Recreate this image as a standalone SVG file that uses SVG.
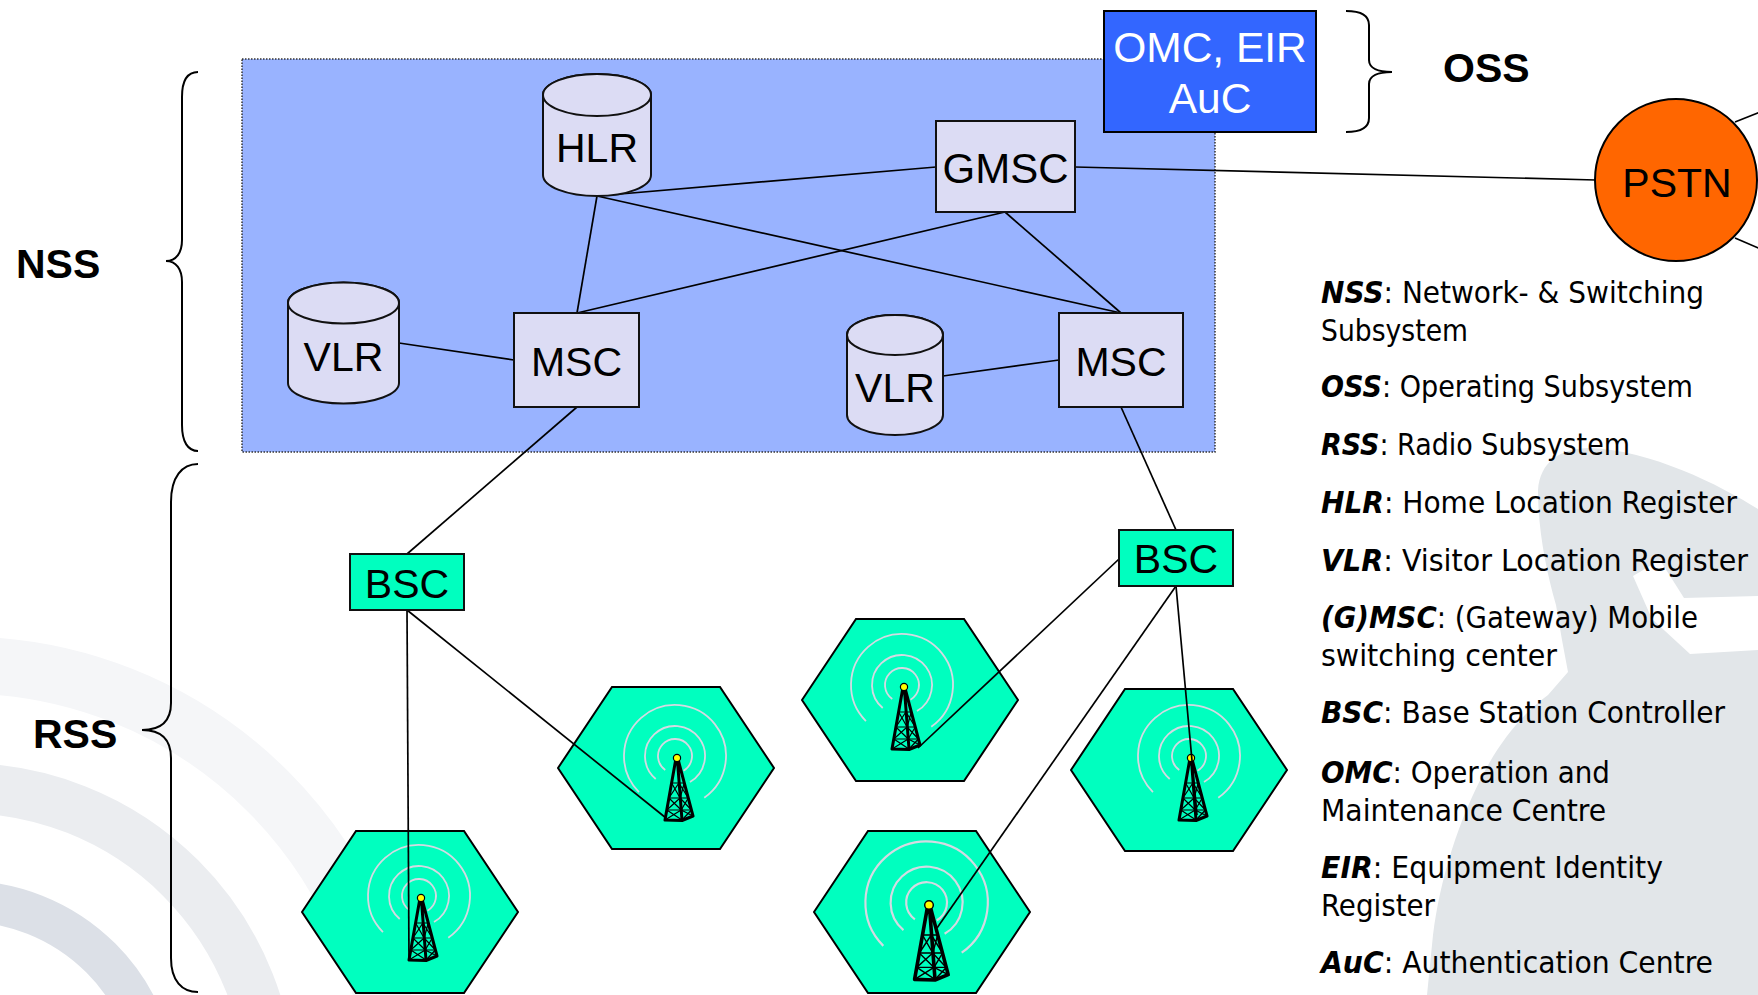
<svg xmlns="http://www.w3.org/2000/svg" xmlns:xlink="http://www.w3.org/1999/xlink" width="1758" height="995" viewBox="0 0 1758 995">
<style>
  .node { fill: #DCDCF4; stroke: #111; stroke-width: 2; }
  .lbl { font-family: "Liberation Sans", Arial, sans-serif; font-size: 41px; fill: #000; text-anchor: middle; }
  .big { font-family: "Liberation Sans", Arial, sans-serif; font-size: 41px; font-weight: bold; fill: #000; }
  .conn line { stroke: #000; stroke-width: 1.7; }
  .brace { fill: none; stroke: #000; stroke-width: 2; }
  .leg { font-family: "DejaVu Sans Condensed", "DejaVu Sans", sans-serif; font-stretch: condensed; font-size: 30px; fill: #000; }
  .leg .k { font-weight: bold; font-style: italic; }
  .cellhex { fill: #00FFBF; stroke: #000; stroke-width: 2; }
  .bsc { fill: #00FFBF; stroke: #111; stroke-width: 2; }
</style>
<defs>
  <polygon id="hex" points="-108,0 -54,-81 54,-81 108,0 54,81 -54,81"/>
  <g id="tower">
    <g fill="none" stroke="#D4DAE2" stroke-width="1.8" transform="translate(-2,-2)">
      <path d="M -9.75 13.93 A 17 17 0 1 1 8.5 14.72"/>
      <path d="M -19.28 22.98 A 30 30 0 1 1 15 25.98"/>
      <path d="M -36.06 36.06 A 51 51 0 1 1 29.25 41.78"/>
    </g>
    <g stroke="#000" stroke-width="3" fill="none" stroke-linejoin="round" stroke-linecap="round">
      <path d="M -1.5 3 L -12 62 M 0.5 3 L 5 62 M 1.5 3 L 16 58 M -12 62 L 5 62.5 L 16 58"/>
    </g>
    <g stroke="#000" stroke-width="1.2" fill="none">
      <path d="M -5.4 25 L 3.1 40 M 1.9 25 L -8.1 40 M -8.1 40 L 4.2 52 M 3.1 40 L -10.2 52 M -10.2 52 L 5 62 M 4.2 52 L -12 62"/>
      <path d="M 1.9 25 L 11.3 40 M 7.3 25 L 3.1 40 M 3.1 40 L 14.4 52 M 11.3 40 L 4.2 52 M 4.2 52 L 16 58 M 14.4 52 L 5 62"/>
      <path d="M -5.4 25 L 7.3 25 M -8.1 40 L 11.3 40 M -10.2 52 L 14.4 52"/>
    </g>
    <circle cx="0" cy="0" r="3.6" fill="#FFFF00" stroke="#000" stroke-width="1.2"/>
  </g>
</defs>

<g id="background">
  <rect x="0" y="0" width="1758" height="995" fill="#FFFFFF"/>
  <circle cx="-37" cy="1096" r="431" fill="none" stroke="#F5F6F8" stroke-width="57"/>
  <circle cx="-37" cy="1096" r="308" fill="none" stroke="#EBEDF0" stroke-width="50"/>
  <circle cx="-37" cy="1096" r="195" fill="none" stroke="#DCE0E7" stroke-width="41"/>
  <path d="M 1427 995 L 1433 935 C 1440 880 1458 820 1487 767 C 1505 735 1525 712 1548 695 L 1568 672 L 1562 640 L 1556 605 C 1546 570 1538 530 1538 490 C 1540 462 1560 448 1590 448 C 1650 450 1720 485 1758 509 L 1758 995 Z" fill="#E2E6E9"/>
  <polygon points="1633,576 1660,560 1684,598 1758,596 1758,650 1690,654 1652,619" fill="#FFFFFF"/>
</g>

<g id="nss-area">
  <rect x="242" y="59" width="973" height="393" fill="#99B3FF" stroke="#333" stroke-width="1.5" stroke-dasharray="1.5 1.5"/>
</g>

<g id="cell-1"><use xlink:href="#hex" class="cellhex" transform="translate(410,912)"/><use xlink:href="#tower" transform="translate(421,898)"/></g>
<g id="cell-2"><use xlink:href="#hex" class="cellhex" transform="translate(666,768)"/><use xlink:href="#tower" transform="translate(677,758)"/></g>
<g id="cell-3"><use xlink:href="#hex" class="cellhex" transform="translate(910,700)"/><use xlink:href="#tower" transform="translate(904,687)"/></g>
<g id="cell-4"><use xlink:href="#hex" class="cellhex" transform="translate(1179,770)"/><use xlink:href="#tower" transform="translate(1191,758)"/></g>
<g id="cell-5"><use xlink:href="#hex" class="cellhex" transform="translate(922,912)"/><use xlink:href="#tower" transform="translate(929,905) scale(1.2)"/></g>

<g id="connectors" class="conn">
  <line x1="597" y1="196" x2="936" y2="167"/>
  <line x1="597" y1="196" x2="1121" y2="313"/>
  <line x1="597" y1="196" x2="577" y2="313"/>
  <line x1="1005" y1="212" x2="577" y2="313"/>
  <line x1="1005" y1="212" x2="1121" y2="313"/>
  <line x1="1075" y1="167" x2="1596" y2="180"/>
  <line x1="399" y1="343" x2="514" y2="360"/>
  <line x1="943" y1="376" x2="1059" y2="360"/>
  <line x1="577" y1="407" x2="407" y2="554"/>
  <line x1="1121" y1="407" x2="1176" y2="530"/>
  <line x1="407" y1="610" x2="409" y2="960"/>
  <line x1="407" y1="610" x2="666" y2="818"/>
  <line x1="1119" y1="559" x2="918" y2="748"/>
  <line x1="1176" y1="586" x2="937" y2="928"/>
  <line x1="1176" y1="586" x2="1197" y2="815"/>
  <line x1="1735" y1="122" x2="1770" y2="108"/>
  <line x1="1735" y1="238" x2="1770" y2="253"/>
</g>

<g id="hlr">
  <path class="node" d="M 543 95 A 54 21 0 0 1 651 95 L 651 175 A 54 21 0 0 1 543 175 Z"/>
  <ellipse class="node" cx="597" cy="95" rx="54" ry="21"/>
  <text class="lbl" x="597" y="162">HLR</text>
</g>
<g id="vlr-1">
  <path class="node" d="M 288 303 A 55.5 20.5 0 0 1 399 303 L 399 383 A 55.5 20.5 0 0 1 288 383 Z"/>
  <ellipse class="node" cx="343.5" cy="303" rx="55.5" ry="20.5"/>
  <text class="lbl" x="343.5" y="371">VLR</text>
</g>
<g id="vlr-2">
  <path class="node" d="M 847 335 A 48 20 0 0 1 943 335 L 943 415 A 48 20 0 0 1 847 415 Z"/>
  <ellipse class="node" cx="895" cy="335" rx="48" ry="20"/>
  <text class="lbl" x="895" y="402">VLR</text>
</g>
<g id="gmsc">
  <rect class="node" x="936" y="121" width="139" height="91"/>
  <text class="lbl" x="1005.5" y="183" style="font-size:42px">GMSC</text>
</g>
<g id="msc-1">
  <rect class="node" x="514" y="313" width="125" height="94"/>
  <text class="lbl" x="576.5" y="376">MSC</text>
</g>
<g id="msc-2">
  <rect class="node" x="1059" y="313" width="124" height="94"/>
  <text class="lbl" x="1121" y="376">MSC</text>
</g>
<g id="bsc-1">
  <rect class="bsc" x="350" y="554" width="114" height="56"/>
  <text class="lbl" x="407" y="598" style="font-size:41px">BSC</text>
</g>
<g id="bsc-2">
  <rect class="bsc" x="1119" y="530" width="114" height="56"/>
  <text class="lbl" x="1176" y="573" style="font-size:41px">BSC</text>
</g>
<g id="omc">
  <rect x="1104" y="11" width="212" height="121" fill="#3366FF" stroke="#000" stroke-width="2"/>
  <text class="lbl" x="1210" y="62" style="fill:#FFFFFF;font-size:42.5px">OMC, EIR</text>
  <text class="lbl" x="1210" y="113" style="fill:#FFFFFF;font-size:42.5px">AuC</text>
</g>
<g id="pstn">
  <circle cx="1676" cy="180" r="81" fill="#FF6600" stroke="#000" stroke-width="2"/>
  <text class="lbl" x="1677" y="197">PSTN</text>
</g>

<g id="subsystem-labels">
  <path class="brace" d="M 198 72 C 188 72 182 80 182 97 L 182 240 C 182 253 176 261 166 261 C 176 261 182 269 182 282 L 182 425 C 182 442 188 451 198 451"/>
  <path class="brace" d="M 198 464 C 182 464 171 477 171 502 L 171 703 C 171 720 162 730 142 730 C 162 730 171 740 171 758 L 171 958 C 171 981 182 992 198 992"/>
  <path class="brace" d="M 1346 11 C 1360 11 1369 15 1369 25 L 1369 60 C 1369 68 1378 72 1392 72 C 1378 72 1369 76 1369 84 L 1369 118 C 1369 128 1360 132 1346 132"/>
  <text class="big" x="16" y="278">NSS</text>
  <text class="big" x="1443" y="82">OSS</text>
  <text class="big" x="33" y="748">RSS</text>
</g>

<g id="legend" class="leg">
  <text x="1321" y="303" textLength="383" lengthAdjust="spacingAndGlyphs"><tspan class="k">NSS</tspan>: Network- &amp; Switching</text>
  <text x="1321" y="341" textLength="147" lengthAdjust="spacingAndGlyphs">Subsystem</text>
  <text x="1321" y="397" textLength="372" lengthAdjust="spacingAndGlyphs"><tspan class="k">OSS</tspan>: Operating Subsystem</text>
  <text x="1321" y="455" textLength="309" lengthAdjust="spacingAndGlyphs"><tspan class="k">RSS</tspan>: Radio Subsystem</text>
  <text x="1321" y="513" textLength="416" lengthAdjust="spacingAndGlyphs"><tspan class="k">HLR</tspan>: Home Location Register</text>
  <text x="1321" y="571" textLength="427" lengthAdjust="spacingAndGlyphs"><tspan class="k">VLR</tspan>: Visitor Location Register</text>
  <text x="1321" y="628" textLength="377" lengthAdjust="spacingAndGlyphs"><tspan class="k">(G)MSC</tspan>: (Gateway) Mobile</text>
  <text x="1321" y="666" textLength="236" lengthAdjust="spacingAndGlyphs">switching center</text>
  <text x="1321" y="723" textLength="404" lengthAdjust="spacingAndGlyphs"><tspan class="k">BSC</tspan>: Base Station Controller</text>
  <text x="1321" y="783" textLength="289" lengthAdjust="spacingAndGlyphs"><tspan class="k">OMC</tspan>: Operation and</text>
  <text x="1321" y="821" textLength="285" lengthAdjust="spacingAndGlyphs">Maintenance Centre</text>
  <text x="1321" y="878" textLength="342" lengthAdjust="spacingAndGlyphs"><tspan class="k">EIR</tspan>: Equipment Identity</text>
  <text x="1321" y="916" textLength="114" lengthAdjust="spacingAndGlyphs">Register</text>
  <text x="1321" y="973" textLength="392" lengthAdjust="spacingAndGlyphs"><tspan class="k">AuC</tspan>: Authentication Centre</text>
</g>
</svg>
